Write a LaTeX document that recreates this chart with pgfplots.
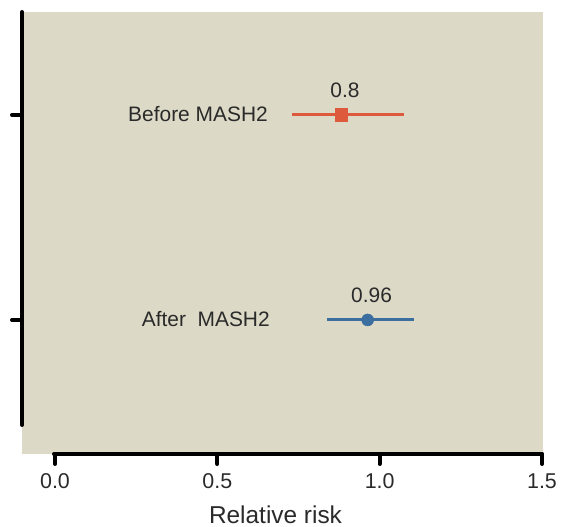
\documentclass[border=0pt]{standalone}
\usepackage{fontspec}
\setmainfont{Liberation Sans}
\usepackage{pgfplots}
\pgfplotsset{compat=1.18}
\definecolor{beige}{HTML}{DCD9C6}
\definecolor{ored}{HTML}{DD5A3C}
\definecolor{sblue}{HTML}{3C6F9F}
\definecolor{txt}{HTML}{2A2A2A}
\begin{document}
\begin{tikzpicture}
\begin{axis}[
  set layers,
  at={(22bp,73bp)}, anchor=south west,
  scale only axis, width=520bp, height=442bp,
  xmin=-0.1016, xmax=1.5, ymin=0.3463, ymax=2.502,
  clip=false,
  axis x line*=bottom, axis y line*=left,
  x axis line style={-, line width=4bp, line cap=round, shorten <=32bp},
  y axis line style={-, line width=4bp, line cap=round, shorten <=29bp},
  xtick={0,0.5,1,1.5}, xticklabels={0.0,0.5,1.0,1.5},
  ytick={1,2}, yticklabels={},
  tick align=outside, major tick length=10bp,
  tick style={line width=4bp, black, line cap=round},
  /pgf/number format/assume math mode=true,
  tick label style={font=\fontsize{21.5}{25}\selectfont, text=txt},
  xticklabel style={yshift=-6bp},
  xlabel={Relative risk},
  xlabel style={font=\fontsize{24.5}{28}\selectfont, text=txt, at={(axis description cs:0.4875,0)}, anchor=base, yshift=-69bp},
]
\begin{pgfonlayer}{axis background}
\fill[beige] (axis cs:-0.1016,0.3463) rectangle (axis cs:1.503,2.502);
\end{pgfonlayer}
\addplot[ored, line width=3bp, mark=square*, mark size=6.2bp, mark options={solid, fill=ored, draw=ored, line width=0.5bp},
  error bars/.cd, x dir=both, x explicit, error mark=none, error bar style={line width=3bp, ored}]
  coordinates {(0.881,2) += (0.194,0) -= (0.151,0)};
\addplot[sblue, line width=3bp, mark=*, mark size=6bp, mark options={solid, fill=sblue, draw=sblue, line width=0.5bp},
  error bars/.cd, x dir=both, x explicit, error mark=none, error bar style={line width=3bp, sblue}]
  coordinates {(0.963,1) += (0.144,0) -= (0.124,0)};
\node[anchor=base east, inner sep=0pt, font=\fontsize{21}{25}\selectfont, text=txt] at (axis cs:0.656,1.966) {Before MASH2};
\node[anchor=base east, inner sep=0pt, font=\fontsize{21}{25}\selectfont, text=txt] at (axis cs:0.662,0.966) {After\ \ MASH2};
\node[anchor=base, inner sep=0pt, font=\fontsize{21}{25}\selectfont, text=txt] at (axis cs:0.893,2.083) {0.8};
\node[anchor=base, inner sep=0pt, font=\fontsize{21}{25}\selectfont, text=txt] at (axis cs:0.975,1.083) {0.96};
\end{axis}
\path (0,0) rectangle (564bp,527bp);
\end{tikzpicture}
\end{document}
